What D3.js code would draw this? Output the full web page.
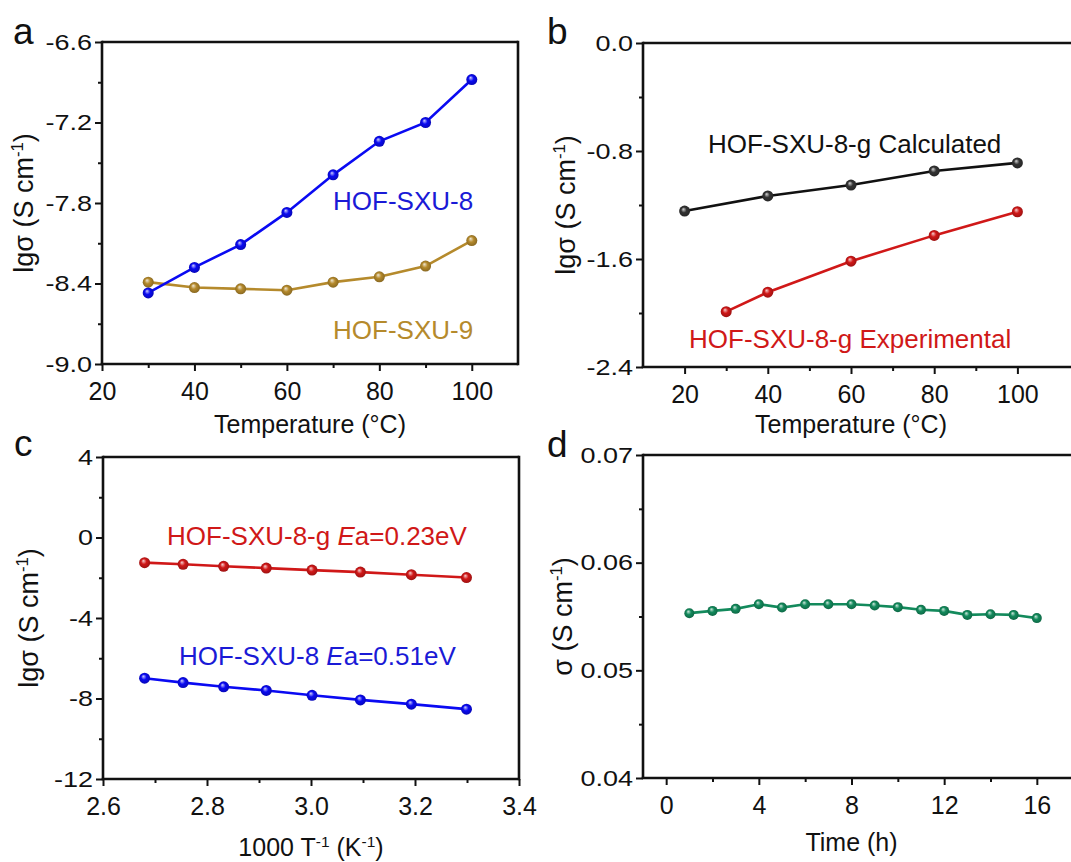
<!DOCTYPE html>
<html>
<head>
<meta charset="utf-8">
<script src="https://cdn.jsdelivr.net/npm/d3@7"></script>
<style>
  body{margin:0;background:#fff;}
  svg text{font-family:"Liberation Sans",Arial,sans-serif;}
</style>
</head>
<body>
<div id="chart"></div>
<script>
// panel a: conductivity vs temperature
const tempA=[30,40,50,60,70,80,90,100];
const sxu8A=[-8.47,-8.28,-8.11,-7.87,-7.59,-7.34,-7.20,-6.88];
const sxu9A=[-8.39,-8.43,-8.44,-8.45,-8.39,-8.35,-8.27,-8.08];
// panel b
const tempCalc=[20,40,60,80,100];
const calcB=[-1.245,-1.133,-1.052,-0.948,-0.888];
const tempExp=[30,40,60,80,100];
const expB=[-1.99,-1.846,-1.616,-1.425,-1.25];
// panel c: arrhenius
const invT=[2.680,2.754,2.832,2.914,3.002,3.095,3.193,3.299];
const sxu8gC=[-1.25,-1.33,-1.43,-1.52,-1.62,-1.72,-1.85,-1.99];
const sxu8C=[-6.99,-7.21,-7.42,-7.60,-7.84,-8.07,-8.28,-8.53];
// panel d: stability
const hours=[1,2,3,4,5,6,7,8,9,10,11,12,13,14,15,16];
const sigmaD=[0.05531,0.05552,0.05571,0.05614,0.05583,0.05614,0.05614,0.05614,0.05602,0.05587,0.05562,0.05552,0.05515,0.05521,0.05515,0.05485];

// ticks
const xTicksA=[20,40,60,80,100], xMinorA=[30,50,70,90];
const yTicksA=[-9.0,-8.4,-7.8,-7.2,-6.6], yMinorA=[-8.7,-8.1,-7.5,-6.9];
const xTicksB=[20,40,60,80,100], xMinorB=[30,50,70,90];
const yTicksB=[-2.4,-1.6,-0.8,0.0], yMinorB=[-2.0,-1.2,-0.4];
const xTicksC=[2.6,2.8,3.0,3.2,3.4], xMinorC=[2.7,2.9,3.1,3.3];
const yTicksC=[-12,-8,-4,0,4], yMinorC=[-10,-6,-2,2];
const xTicksD=[0,4,8,12,16], xMinorD=[2,6,10,14];
const yTicksD=[0.04,0.05,0.06,0.07], yMinorD=[0.045,0.055,0.065];

const W=1071,H=862;
const BLUE="#0a0af2",GOLD="#b58a2c",BLACK="#111111",RED="#d01818",GREEN="#138a5c";

const svg=d3.select("#chart").append("svg")
    .attr("width",W).attr("height",H);
const defs=svg.append("defs");

function ballGradient(id,color){
    const g=defs.append("radialGradient").attr("id",id)
        .attr("cx","50%").attr("cy","50%").attr("r","55%")
        .attr("fx","38%").attr("fy","32%");
    g.append("stop").attr("offset","0%").attr("stop-color",d3.interpolateRgb(color,"#ffffff")(0.8));
    g.append("stop").attr("offset","45%").attr("stop-color",color);
    g.append("stop").attr("offset","100%").attr("stop-color",d3.color(color).darker(0.9));
}
ballGradient("gBlue",BLUE);
ballGradient("gGold",GOLD);
ballGradient("gBlack","#333333");
ballGradient("gRed",RED);
ballGradient("gGreen",GREEN);

function addTitle(g,x,y,parts,size,rotate){
    const t=g.append("text")
        .attr("text-anchor","middle")
        .attr("font-size",size)
        .attr("fill","#111");
    if(rotate){
        t.attr("transform",`translate(${x},${y}) rotate(-90)`);
    }else{
        t.attr("x",x).attr("y",y);
    }
    parts.forEach(p=>{
        const s=t.append("tspan").text(p.t);
        if(p.sup){s.attr("font-size",size*0.62).attr("dy",-size*0.38);}
        if(p.after){s.attr("dy",size*0.38);}
        if(p.it){s.attr("font-style","italic");}
    });
    return t;
}

function panel(cfg){
    const g=svg.append("g");
    const x=d3.scaleLinear().domain(cfg.xDomain).range([cfg.left,cfg.right]);
    const y=d3.scaleLinear().domain(cfg.yDomain).range([cfg.bottom,cfg.top]);

    // minor ticks
    g.append("g").attr("transform",`translate(0,${cfg.bottom})`)
        .call(d3.axisBottom(x).tickValues(cfg.xMinor).tickSize(4).tickFormat(""))
        .call(a=>a.select(".domain").remove());
    g.append("g").attr("transform",`translate(${cfg.left},0)`)
        .call(d3.axisLeft(y).tickValues(cfg.yMinor).tickSize(4).tickFormat(""))
        .call(a=>a.select(".domain").remove());
    // major ticks
    g.append("g").attr("transform",`translate(0,${cfg.bottom})`)
        .call(d3.axisBottom(x).tickValues(cfg.xTicks).tickSize(7).tickPadding(11).tickFormat(cfg.xFmt))
        .call(a=>a.select(".domain").remove());
    const ya=g.append("g").attr("transform",`translate(${cfg.left},0)`)
        .call(d3.axisLeft(y).tickValues(cfg.yTicks).tickSize(7).tickPadding(3).tickFormat(cfg.yFmt))
        .call(a=>a.select(".domain").remove());
    g.selectAll(".tick line").attr("stroke","#111").attr("stroke-width",2);
    g.selectAll(".tick text").attr("font-size",25).attr("fill","#111")
        .attr("font-family","Liberation Sans, Arial, sans-serif");
    // y labels in the source are drawn a little wide
    const sx=1.2;
    ya.selectAll(".tick text").attr("font-size",22.5)
        .attr("x",-10/sx).attr("transform",`scale(${sx},1)`);

    // frame
    const fr=g.append("g").attr("stroke","#111").attr("stroke-width",2.6).attr("fill","none");
    const rx=cfg.open? W+10 : cfg.right;
    fr.append("line").attr("x1",cfg.left).attr("x2",rx).attr("y1",cfg.top).attr("y2",cfg.top);
    fr.append("line").attr("x1",cfg.left-1.3).attr("x2",rx).attr("y1",cfg.bottom).attr("y2",cfg.bottom);
    fr.append("line").attr("x1",cfg.left).attr("x2",cfg.left).attr("y1",cfg.top-1.3).attr("y2",cfg.bottom);
    if(!cfg.open){
        fr.append("line").attr("x1",cfg.right).attr("x2",cfg.right).attr("y1",cfg.top-1.3).attr("y2",cfg.bottom+1.3);
    }

    // series
    cfg.series.forEach(s=>{
        const pts=s.x.map((v,i)=>[v,s.y[i]]);
        g.append("path")
            .datum(pts)
            .attr("fill","none")
            .attr("stroke",s.color)
            .attr("stroke-width",2.6)
            .attr("d",d3.line().x(d=>x(d[0])).y(d=>y(d[1])));
        g.selectAll(null)
            .data(pts)
            .enter()
            .append("circle")
            .attr("cx",d=>x(d[0]))
            .attr("cy",d=>y(d[1]))
            .attr("r",cfg.r||5.5)
            .attr("fill",`url(#${s.grad})`);
    });

    // panel letter
    g.append("text").attr("x",cfg.letterX).attr("y",cfg.letterY)
        .attr("font-size",37).attr("fill","#111").text(cfg.letter);

    addTitle(g,(cfg.left+cfg.right)/2,cfg.bottom+cfg.xTitleOff,cfg.xTitle,25,false);
    addTitle(g,cfg.left-cfg.yTitleOff,(cfg.top+cfg.bottom)/2,cfg.yTitle,27,true);

    (cfg.labels||[]).forEach(l=>{
        const t=g.append("text").attr("x",l.x).attr("y",l.y)
            .attr("font-size",26).attr("fill",l.color);
        l.parts.forEach(p=>{
            const s=t.append("tspan").text(p.t);
            if(p.it){s.attr("font-style","italic");}
        });
    });
    return g;
}

const lgTitle=[{t:"lgσ (S cm"},{t:"-1",sup:true},{t:")",after:true}];

panel({
    letter:"a",letterX:13,letterY:44,
    left:102,right:518,top:42,bottom:364,
    xDomain:[20,110],yDomain:[-9.0,-6.6],
    xTicks:xTicksA,xMinor:xMinorA,yTicks:yTicksA,yMinor:yMinorA,
    xFmt:d=>String(d),yFmt:d=>d.toFixed(1),
    xTitle:[{t:"Temperature (°C)"}],xTitleOff:69,
    yTitle:lgTitle,yTitleOff:69,
    series:[
        {x:tempA,y:sxu9A,color:GOLD,grad:"gGold"},
        {x:tempA,y:sxu8A,color:BLUE,grad:"gBlue"}
    ],
    labels:[
        {x:333,y:210,color:"#1a1ad6",parts:[{t:"HOF-SXU-8"}]},
        {x:333,y:339,color:GOLD,parts:[{t:"HOF-SXU-9"}]}
    ]
});

panel({
    letter:"b",letterX:547,letterY:44,open:true,
    left:643,right:1059,top:43,bottom:367,
    xDomain:[10,110],yDomain:[-2.4,0.0],
    xTicks:xTicksB,xMinor:xMinorB,yTicks:yTicksB,yMinor:yMinorB,
    xFmt:d=>String(d),yFmt:d=>d.toFixed(1),
    xTitle:[{t:"Temperature (°C)"}],xTitleOff:66,
    yTitle:lgTitle,yTitleOff:68,
    series:[
        {x:tempCalc,y:calcB,color:BLACK,grad:"gBlack"},
        {x:tempExp,y:expB,color:RED,grad:"gRed"}
    ],
    labels:[
        {x:708,y:153,color:"#111",parts:[{t:"HOF-SXU-8-g Calculated"}]},
        {x:689,y:348,color:RED,parts:[{t:"HOF-SXU-8-g Experimental"}]}
    ]
});

panel({
    letter:"c",letterX:14,letterY:456,
    left:103,right:519,top:457,bottom:779,
    xDomain:[2.6,3.4],yDomain:[-12,4],
    xTicks:xTicksC,xMinor:xMinorC,yTicks:yTicksC,yMinor:yMinorC,
    xFmt:d=>d.toFixed(1),yFmt:d=>String(d),
    xTitle:[{t:"1000 T"},{t:"-1",sup:true},{t:" (K",after:true},{t:"-1",sup:true},{t:")",after:true}],xTitleOff:77,
    yTitle:lgTitle,yTitleOff:65,
    series:[
        {x:invT,y:sxu8gC,color:RED,grad:"gRed"},
        {x:invT,y:sxu8C,color:BLUE,grad:"gBlue"}
    ],
    labels:[
        {x:167,y:545,color:RED,parts:[{t:"HOF-SXU-8-g "},{t:"E",it:true},{t:"a=0.23eV"}]},
        {x:179,y:665,color:"#1a1ad6",parts:[{t:"HOF-SXU-8 "},{t:"E",it:true},{t:"a=0.51eV"}]}
    ]
});

panel({
    letter:"d",letterX:547,letterY:457,open:true,r:5,
    left:643,right:1060,top:455,bottom:778,
    xDomain:[-1,17],yDomain:[0.04,0.07],
    xTicks:xTicksD,xMinor:xMinorD,yTicks:yTicksD,yMinor:yMinorD,
    xFmt:d=>String(d),yFmt:d=>d.toFixed(2),
    xTitle:[{t:"Time (h)"}],xTitleOff:73,
    yTitle:[{t:"σ (S cm"},{t:"-1",sup:true},{t:")",after:true}],yTitleOff:71,
    series:[
        {x:hours,y:sigmaD,color:GREEN,grad:"gGreen"}
    ]
});
</script>
</body>
</html>
